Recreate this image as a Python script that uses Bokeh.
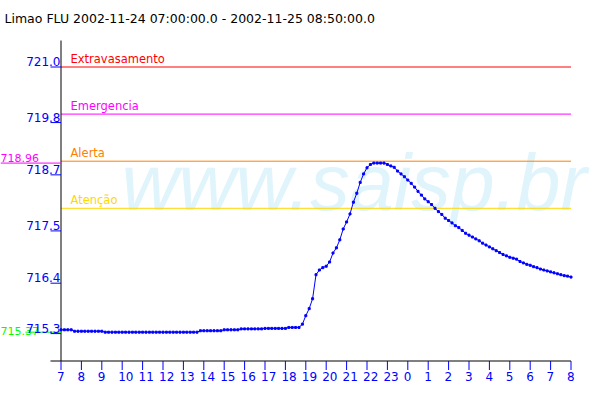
from bokeh.plotting import figure
from bokeh.models import LabelSet, Label, ColumnDataSource, Range1d
from bokeh.core.properties import value
from bokeh.embed import file_html
from bokeh.resources import INLINE
import pandas as pd

# ---------------- data ----------------
station = "Limao FLU"
period_start = "2002-11-24 07:00:00.0"
period_end = "2002-11-25 08:50:00.0"
first_sample = "2002-11-24 07:00"
sample_step = "10min"

levels = [
    715.42, 715.42, 715.42, 715.42,
    715.39, 715.39, 715.39, 715.39, 715.39, 715.39, 715.39, 715.39, 715.39,
    715.37, 715.37, 715.37, 715.37, 715.37, 715.37, 715.37, 715.37, 715.37, 715.37,
    715.37, 715.37, 715.37, 715.37, 715.37, 715.37, 715.37, 715.37, 715.37, 715.37,
    715.37, 715.37, 715.37, 715.37, 715.37, 715.37, 715.37, 715.37,
    715.40, 715.40, 715.40, 715.40, 715.40, 715.40, 715.40,
    715.42, 715.42, 715.42, 715.42, 715.42,
    715.44, 715.44, 715.44, 715.44, 715.44, 715.44, 715.44,
    715.45, 715.45, 715.45, 715.45, 715.45, 715.45, 715.45,
    715.47, 715.47, 715.47, 715.47,
    715.54, 715.72, 715.87, 716.08, 716.59, 716.69, 716.74, 716.77, 716.86, 717.05,
    717.16, 717.33, 717.56, 717.71, 717.88, 718.13, 718.32, 718.55, 718.73, 718.86,
    718.93,
    718.96, 718.96, 718.96, 718.96,
    718.93, 718.90, 718.87, 718.79, 718.73, 718.67, 718.60, 718.53, 718.45, 718.36,
    718.28, 718.20, 718.14, 718.08, 718.00, 717.93, 717.87, 717.79, 717.74, 717.69,
    717.63, 717.59, 717.53, 717.47, 717.43, 717.39, 717.35, 717.31, 717.26, 717.22,
    717.18, 717.14, 717.10, 717.06, 717.02, 716.99, 716.96, 716.94, 716.92, 716.87,
    716.84, 716.81, 716.79, 716.76, 716.74, 716.71, 716.69, 716.67, 716.65, 716.63,
    716.61, 716.59, 716.57, 716.56, 716.54,
]

threshold_names = ["Extravasamento", "Emergencia", "Alerta", "Atenção"]
threshold_levels = [721.0, 720.0, 719.0, 718.0]
threshold_colors = ["#FF0000", "#FF00FF", "#FF8000", "#FFD700"]

y_tick_values = [715.34, 716.41, 717.52, 718.71, 719.82, 721.0]
y_tick_labels = ["715.3", "716.4", "717.5", "718.7", "719.8", "721.0"]

x_tick_hours = list(range(7, 33))
x_tick_labels = ["7", "8", "9", "10", "11", "12", "13", "14", "15", "16", "17", "18",
                 "19", "20", "21", "22", "23", "0", "1", "2", "3", "4", "5", "6", "7", "8"]

watermark = "www.saisp.br"

# ---------------- layout (pixel geometry of the plot area) ----------------
W, H = 600, 400
X_START, X_END = 7.0, 32.0          # hours since 2002-11-24 00:00
PX_LEFT, PPH = 60.5, 20.4           # pixel column of X_START, pixels per hour
Y_REF, PY_REF, PPU = 721.0, 66.5, 47.1   # level, its pixel row, pixels per metre


def h_at(px):
    return X_START + (px - PX_LEFT) / PPH


def v_at(py):
    return Y_REF + (PY_REF - py) / PPU


axis_bottom = v_at(360.5)
axis_top = v_at(40)
FONT = value("DejaVu Sans")
FONT_NAME = "DejaVu Sans"
BLUE = "#0000FF"

# ---------------- derived ----------------
times = pd.date_range(first_sample, periods=len(levels), freq=sample_step)
day0 = pd.Timestamp(first_sample).normalize()
hours = [(t - day0) / pd.Timedelta(hours=1) for t in times]

p = figure(width=W, height=H, output_backend="svg", toolbar_location=None,
           x_range=Range1d(h_at(0), h_at(W)), y_range=Range1d(v_at(H), v_at(0)),
           x_axis_location=None, y_axis_location=None,
           min_border=0, min_border_left=0, min_border_right=0,
           min_border_top=0, min_border_bottom=0)
p.outline_line_color = None
p.grid.visible = False
p.background_fill_color = "white"
p.border_fill_color = "white"

# watermark (behind everything)
p.add_layout(Label(x=h_at(121), y=v_at(182), text=watermark, text_font="Liberation Sans",
                   text_font_style="italic", text_font_size="79px", text_color="#E0F4FC",
                   text_baseline="alphabetic", level="underlay"))

# threshold lines + labels
n_th = len(threshold_levels)
th_src = ColumnDataSource(dict(x0=[X_START] * n_th, x1=[X_END] * n_th, y=threshold_levels,
                               name=threshold_names, color=threshold_colors))
p.segment(x0="x0", y0="y", x1="x1", y1="y", color="color", line_width=1, source=th_src)
p.add_layout(LabelSet(x="x0", y="y", text="name", text_color="color", source=th_src,
                      x_offset=9.5, y_offset=4, text_font=FONT, text_font_size="11.5px",
                      text_baseline="alphabetic"))

# axes drawn through the data scales
p.segment(x0=[X_START], y0=[axis_bottom], x1=[X_START], y1=[axis_top], color="black", line_width=1)
p.segment(x0=[h_at(50)], y0=[axis_bottom], x1=[X_END], y1=[axis_bottom], color="black", line_width=1)
p.segment(x0=x_tick_hours, y0=[axis_bottom] * len(x_tick_hours),
          x1=x_tick_hours, y1=[v_at(369.5)] * len(x_tick_hours), color=BLUE, line_width=1)
p.segment(x0=[h_at(50)] * len(y_tick_values), y0=y_tick_values,
          x1=[X_START] * len(y_tick_values), y1=y_tick_values, color=BLUE, line_width=1)

# series
p.line(hours, levels, color=BLUE, line_width=1)
p.scatter(hours, levels, marker="square", size=2, color=BLUE)

# max / min markers on the left
vmax, vmin = max(levels), min(levels)
p.segment(x0=[h_at(0)], y0=[vmax], x1=[X_START], y1=[vmax], color="#FF00FF", line_width=1)
p.segment(x0=[h_at(25)], y0=[vmin], x1=[X_START], y1=[vmin], color="#00FF00", line_width=1)
p.add_layout(Label(x=h_at(0), y=vmax, text=f"{vmax:.2f}", text_color="#FF00FF",
                   text_align="left", text_baseline="alphabetic", y_offset=5,
                   text_font=FONT_NAME, text_font_size="11px"))
p.add_layout(Label(x=h_at(0), y=vmin, text=f"{vmin:.2f}", text_color="#00FF00",
                   text_align="left", text_baseline="alphabetic", y_offset=1,
                   text_font=FONT_NAME, text_font_size="11px"))

# y tick labels
yl_src = ColumnDataSource(dict(x=[X_START] * len(y_tick_values), y=y_tick_values, text=y_tick_labels))
p.add_layout(LabelSet(x="x", y="y", text="text", source=yl_src, text_color=BLUE,
                      text_align="right", text_baseline="alphabetic", x_offset=-0.5, y_offset=1,
                      text_font=FONT, text_font_size="12px"))

# x tick labels
xl_src = ColumnDataSource(dict(x=x_tick_hours, y=[axis_bottom] * len(x_tick_hours), text=x_tick_labels))
p.add_layout(LabelSet(x="x", y="y", text="text", source=xl_src, text_color=BLUE,
                      text_align="left", text_baseline="alphabetic", x_offset=-4, y_offset=-20,
                      text_font=FONT, text_font_size="12px"))

# title
p.add_layout(Label(x=h_at(4), y=v_at(17.5), text=f"{station} {period_start} - {period_end}",
                   text_color="black", text_baseline="alphabetic",
                   text_font=FONT_NAME, text_font_size="12.5px"))

open("out.html", "w").write(file_html(p, INLINE))
